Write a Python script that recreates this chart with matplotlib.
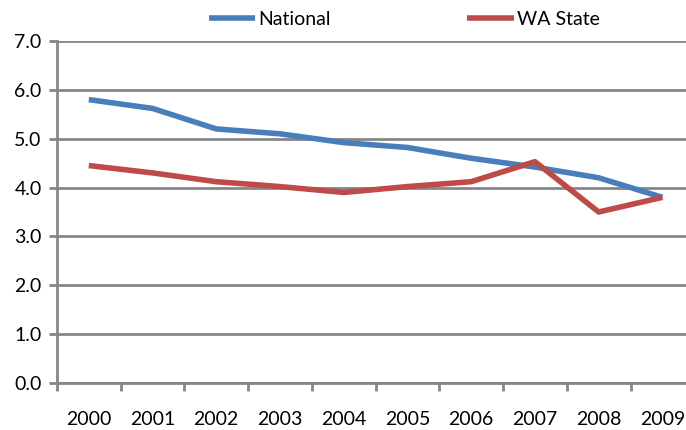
import matplotlib
matplotlib.use('Agg')
import matplotlib.pyplot as plt

# data
years = ['2000', '2001', '2002', '2003', '2004', '2005', '2006', '2007', '2008', '2009']
national = [5.8, 5.62, 5.2, 5.1, 4.92, 4.82, 4.6, 4.42, 4.2, 3.8]
wa_state = [4.45, 4.3, 4.12, 4.02, 3.9, 4.02, 4.12, 4.53, 3.5, 3.8]
y_ticks = [0, 1, 2, 3, 4, 5, 6, 7]

plt.rcParams['font.family'] = ['Lato', 'DejaVu Sans']

fig = plt.figure(figsize=(6.86, 4.30), dpi=100)
ax = fig.add_axes([0.083, 0.1093, 0.929, 0.7954])

x = list(range(len(years)))
ax.plot(x, national, color='#4A7EBB', lw=4.0, solid_capstyle='butt', label='National')
ax.plot(x, wa_state, color='#BE4B48', lw=4.0, solid_capstyle='butt', label='WA State')

grid_c = '#868686'
ax.set_xlim(-0.5, 9.5)
ax.set_ylim(0, 7)
ax.set_yticks(y_ticks)
ax.set_yticklabels([f'{v:.1f}' for v in y_ticks])
ax.yaxis.grid(True, color=grid_c, lw=2)
ax.set_axisbelow(True)

# category labels in the middle, tick marks at the boundaries
ax.set_xticks(x)
ax.set_xticklabels(years)
ax.set_xticks([i - 0.5 for i in range(len(years) + 1)], minor=True)
ax.tick_params(axis='x', which='major', length=0, pad=20, labelsize=14)
ax.tick_params(axis='x', which='minor', length=6, width=2, color=grid_c)
ax.tick_params(axis='y', length=6, width=2, color=grid_c, labelsize=14, pad=5)

for s in ['top', 'right']:
    ax.spines[s].set_visible(False)
for s in ['left', 'bottom']:
    ax.spines[s].set_color(grid_c)
    ax.spines[s].set_linewidth(2)

fig.legend(loc='center', bbox_to_anchor=(0.589, 0.955), ncol=2, frameon=False,
           fontsize=14, handlelength=2.4, handletextpad=0.15, columnspacing=7.0,
           borderpad=0, borderaxespad=0)

plt.savefig('out.png', dpi=100)
